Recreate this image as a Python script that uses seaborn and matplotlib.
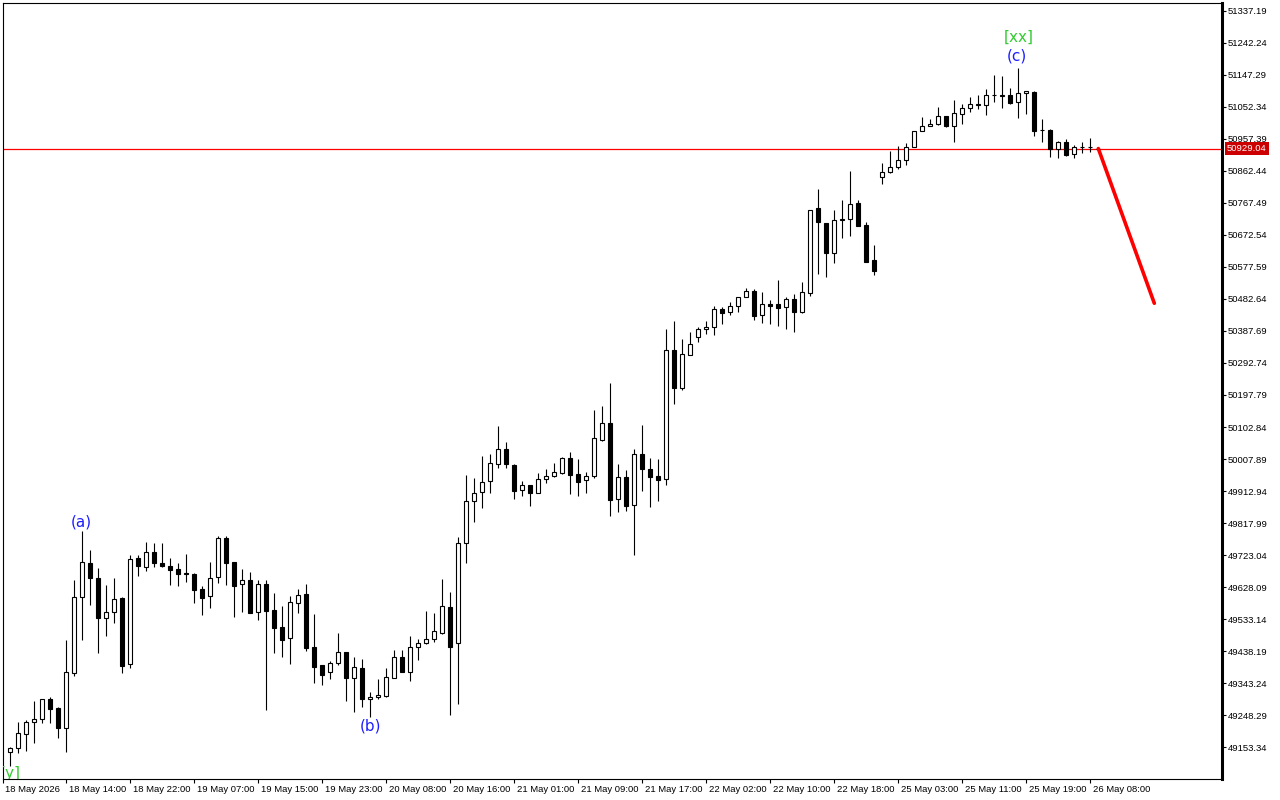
import numpy as np
import pandas as pd
import matplotlib
matplotlib.use("Agg")
import matplotlib.pyplot as plt
import matplotlib.transforms as mtransforms
import seaborn as sns

# hourly OHLC bars (bar 0 = first candle on the left)
opens = [
    49137.6, 49149.4, 49191.0, 49226.6, 49235.5, 49294.8, 49268.1, 49208.8, 49372.0, 49599.3,
    49698.4, 49653.9, 49535.2, 49553.0, 49596.3, 49398.7, 49713.2, 49686.5, 49732.8, 49698.4,
    49690.4, 49680.6, 49670.5, 49666.6, 49622.1, 49602.2, 49656.8, 49772.6, 49702.2, 49636.1,
    49647.9, 49553.0, 49636.1, 49559.8, 49509.4, 49475.8, 49579.7, 49607.3, 49450.0, 49395.7,
    49375.0, 49401.7, 49434.3, 49357.1, 49386.8, 49295.7, 49300.8, 49303.7, 49359.0, 49419.5,
    49375.0, 49449.1, 49461.0, 49472.9, 49492.5, 49567.8, 49461.0, 49757.7, 49883.2, 49909.0,
    49942.6, 49992.1, 50036.6, 49989.2, 49915.0, 49929.8, 49907.9, 49947.6, 49956.5, 49967.3,
    50010.8, 49963.3, 49944.7, 49956.5, 50063.3, 50113.8, 49888.3, 49954.4, 49870.5, 50021.8,
    49977.3, 49957.4, 49947.6, 50330.4, 50217.6, 50315.6, 50369.0, 50392.7, 50398.6, 50452.0,
    50443.1, 50461.8, 50488.5, 50505.5, 50434.2, 50466.9, 50466.9, 50458.0, 50481.7, 50444.9,
    50499.5, 50751.7, 50708.1, 50620.0, 50716.1, 50719.1, 50766.6, 50701.3, 50597.4, 50844.6,
    50858.6, 50873.4, 50894.2, 50934.5, 50980.2, 50995.9, 51001.0, 51024.7, 50996.8, 51031.5,
    51048.5, 51059.1, 51057.4, 51087.0, 51086.0, 51087.0, 51066.3, 51093.9, 51096.8, 50983.2,
    50984.1, 50926.8, 50947.6, 50912.0, 50932.7, 50932.7, 50926.5,
]
highs = [
    49152.4, 49228.4, 49233.4, 49289.8, 49296.0, 49300.8, 49272.9, 49470.8, 49648.8, 49795.1,
    49737.8, 49683.5, 49634.0, 49653.9, 49597.5, 49723.0, 49723.0, 49760.7, 49759.5, 49757.7,
    49713.2, 49700.2, 49726.0, 49670.5, 49631.0, 49702.2, 49779.4, 49779.4, 49702.2, 49680.6,
    49671.7, 49648.8, 49648.8, 49609.4, 49571.7, 49601.3, 49621.2, 49637.0, 49547.9, 49395.7,
    49408.5, 49490.7, 49436.0, 49419.5, 49413.5, 49315.6, 49354.2, 49386.8, 49441.1, 49441.1,
    49482.7, 49472.9, 49556.8, 49550.0, 49650.9, 49612.3, 49777.3, 49960.4, 49950.6, 50016.8,
    50022.7, 50105.8, 50057.4, 49993.0, 49942.6, 49929.8, 49965.4, 49977.3, 49995.1, 50014.7,
    50028.6, 50007.9, 49968.4, 50153.2, 50164.2, 50232.5, 49992.1, 49975.2, 50036.6, 50108.7,
    50010.8, 50007.9, 50393.6, 50417.3, 50363.9, 50384.7, 50398.6, 50416.4, 50461.8, 50458.9,
    50472.8, 50488.5, 50515.2, 50511.4, 50503.4, 50479.6, 50539.0, 50488.5, 50496.6, 50533.0,
    50747.6, 50809.0, 50708.1, 50746.7, 50776.4, 50862.4, 50775.5, 50711.1, 50642.8, 50886.1,
    50921.8, 50935.7, 50945.5, 50980.2, 51021.7, 51015.8, 51051.4, 51024.7, 51072.2, 51060.3,
    51081.1, 51087.9, 51104.8, 51147.3, 51144.3, 51107.8, 51168.9, 51100.7, 51098.9, 51016.7,
    50986.0, 50952.3, 50958.2, 50940.4, 50947.6, 50961.2, 50932.0,
]
lows = [
    49097.8, 49136.4, 49142.3, 49164.3, 49225.4, 49225.4, 49180.9, 49139.4, 49364.9, 49470.8,
    49574.6, 49433.1, 49483.6, 49522.1, 49373.8, 49388.6, 49661.6, 49676.4, 49688.3, 49686.0,
    49634.0, 49631.9, 49643.8, 49579.7, 49545.0, 49566.6, 49640.8, 49633.1, 49539.9, 49554.8,
    49551.8, 49530.1, 49263.1, 49433.1, 49421.2, 49399.6, 49551.8, 49439.0, 49344.1, 49338.2,
    49355.1, 49396.6, 49289.8, 49258.0, 49272.9, 49241.4, 49294.8, 49302.5, 49357.1, 49375.0,
    49350.0, 49411.4, 49458.0, 49465.7, 49488.6, 49249.1, 49280.9, 49700.2, 49821.8, 49863.4,
    49906.1, 49980.3, 49982.0, 49890.1, 49899.0, 49868.4, 49906.0, 49937.5, 49955.0, 49963.3,
    49904.9, 49899.0, 49907.9, 49952.4, 50062.0, 49839.6, 49851.5, 49853.6, 49723.0, 49913.8,
    49866.3, 49884.1, 49931.6, 50171.9, 50212.6, 50315.0, 50355.9, 50379.6, 50376.7, 50409.3,
    50436.0, 50443.1, 50487.5, 50421.2, 50412.3, 50409.3, 50403.4, 50394.5, 50385.6, 50440.2,
    50492.4, 50557.7, 50548.8, 50590.3, 50664.5, 50670.4, 50698.0, 50591.5, 50552.9, 50824.7,
    50857.0, 50869.2, 50881.1, 50934.5, 50980.2, 50995.9, 50998.0, 50993.9, 50947.6, 51001.0,
    51038.4, 51045.5, 51027.7, 51067.1, 51048.5, 51061.2, 51020.6, 51031.5, 50967.2, 50948.5,
    50904.8, 50900.1, 50907.8, 50901.9, 50916.7, 50917.9, 50925.0,
]
closes = [
    49149.4, 49194.0, 49226.6, 49235.5, 49294.8, 49265.2, 49208.8, 49375.0, 49599.3, 49701.3,
    49653.9, 49535.2, 49553.0, 49591.6, 49394.5, 49710.2, 49691.3, 49732.8, 49698.4, 49689.5,
    49679.4, 49667.5, 49665.7, 49620.0, 49596.3, 49653.9, 49772.6, 49700.2, 49631.9, 49647.9,
    49551.8, 49636.1, 49557.7, 49507.3, 49471.7, 49582.7, 49603.4, 49447.9, 49391.6, 49367.8,
    49401.7, 49434.3, 49357.1, 49389.8, 49294.8, 49301.7, 49306.7, 49360.1, 49419.5, 49375.0,
    49449.1, 49461.0, 49472.9, 49497.5, 49570.8, 49450.9, 49757.7, 49883.2, 49906.1, 49940.5,
    49995.1, 50036.6, 49992.1, 49913.8, 49929.8, 49907.9, 49947.6, 49956.5, 49968.4, 50010.8,
    49961.3, 49940.5, 49957.4, 50069.3, 50113.8, 49887.1, 49953.4, 49869.3, 50021.8, 49977.3,
    49955.3, 49946.4, 50330.4, 50219.4, 50318.5, 50349.1, 50392.7, 50398.6, 50452.0, 50442.0,
    50461.8, 50488.5, 50505.5, 50433.1, 50466.9, 50462.7, 50456.8, 50481.7, 50444.9, 50502.5,
    50745.8, 50712.0, 50620.0, 50716.1, 50719.1, 50763.6, 50700.1, 50593.3, 50564.8, 50858.6,
    50873.4, 50894.2, 50934.5, 50980.2, 50995.0, 51001.0, 51024.7, 50996.8, 51033.6, 51048.5,
    51060.3, 51061.2, 51087.0, 51087.9, 51086.5, 51065.1, 51093.0, 51098.9, 50982.0, 50984.1,
    50926.8, 50947.6, 50910.8, 50932.7, 50933.6, 50932.7, 50929.04,
]

time_labels = [
    "18 May 2026", "18 May 14:00", "18 May 22:00", "19 May 07:00", "19 May 15:00",
    "19 May 23:00", "20 May 08:00", "20 May 16:00", "21 May 01:00", "21 May 09:00",
    "21 May 17:00", "22 May 02:00", "22 May 10:00", "22 May 18:00", "25 May 03:00",
    "25 May 11:00", "25 May 19:00", "26 May 08:00",
]
price_ticks = [
    51337.19, 51242.24, 51147.29, 51052.34, 50957.39, 50862.44, 50767.49, 50672.54,
    50577.59, 50482.64, 50387.69, 50292.74, 50197.79, 50102.84, 50007.89, 49912.94,
    49817.99, 49723.04, 49628.09, 49533.14, 49438.19, 49343.24, 49248.29, 49153.34,
]
last_price = 50929.04

# projected move drawn from the last bar
forecast_bars = [136, 143]
forecast_prices = [50929.04, 50470.0]

# wave labels
wave_text = ["[y]", "(a)", "(b)", "(c)", "[xx]"]
wave_bar = [0.0, 8.9, 45.0, 125.8, 126.0]
wave_price = [49076.0, 49821.0, 49216.0, 51205.0, 51258.0]
wave_color = ["#33CC33", "#1E1EFF", "#1E1EFF", "#1E1EFF", "#33CC33"]

sns.set_style("ticks")
plt.rcParams["font.family"] = ["Liberation Sans", "DejaVu Sans"]
plt.rcParams["axes.edgecolor"] = "black"
plt.rcParams["xtick.color"] = "black"
plt.rcParams["ytick.color"] = "black"

df = pd.DataFrame({"open": opens, "high": highs, "low": lows, "close": closes})
df["bar"] = np.arange(len(df))
up = df["close"] >= df["open"]

fig = plt.figure(figsize=(12.8, 8), dpi=100)
ax = fig.add_axes([2.5 / 1280, 21 / 800, 1219 / 1280, 776.5 / 800])

# wicks then bodies
ax.vlines(df["bar"], df["low"], df["high"], color="black", lw=0.8, zorder=2)
ax.bar(df["bar"], (df["close"] - df["open"]).abs(),
       bottom=df[["open", "close"]].min(axis=1), width=0.5,
       color=np.where(up, "white", "black"), edgecolor="black", lw=0.8, zorder=3)

ax.axhline(last_price, color="#FF0000", lw=0.9, zorder=1)
sns.lineplot(x=forecast_bars, y=forecast_prices, ax=ax, color="#FF0000", lw=2.6,
             zorder=4, legend=False)

for txt, b, p, c in zip(wave_text, wave_bar, wave_price, wave_color):
    ax.text(b, p, txt, color=c, fontsize=11, family="DejaVu Sans",
            ha="center", va="center", zorder=5, clip_on=True)

ax.set_xlim(-1.0, 151.4)
ax.set_ylim(49058.4, 51362.4)
ax.set_xlabel("")
ax.set_ylabel("")

# time axis
ax.set_xticks(np.arange(-1, 136, 8))
ax.set_xticklabels(time_labels)
ax.tick_params(axis="x", direction="out", length=3, width=0.8, pad=1.5, labelsize=6.8)
shift = mtransforms.ScaledTranslation(2 / 72, 0, fig.dpi_scale_trans)
for lab in ax.get_xticklabels():
    lab.set_horizontalalignment("left")
    lab.set_transform(lab.get_transform() + shift)

# price axis on the right
ax.yaxis.tick_right()
ax.set_yticks(price_ticks)
ax.set_yticklabels([f"{v:.2f}" for v in price_ticks])
ax.tick_params(axis="y", direction="out", length=3, width=0.8, pad=1.5, labelsize=6.8)

for side in ["left", "top", "bottom"]:
    ax.spines[side].set_linewidth(0.8)
ax.spines["right"].set_linewidth(2.2)

# current price tag
tag_tr = mtransforms.blended_transform_factory(ax.transAxes, ax.transData)
ax.text(1.0, last_price, "50929.04", transform=tag_tr + mtransforms.ScaledTranslation(4 / 72, 0, fig.dpi_scale_trans),
        ha="left", va="center", color="white", fontsize=6.8, zorder=6, clip_on=False,
        bbox=dict(boxstyle="square,pad=0.2", fc="#CC0000", ec="none"))

fig.savefig("out.png", dpi=100, facecolor="white")
